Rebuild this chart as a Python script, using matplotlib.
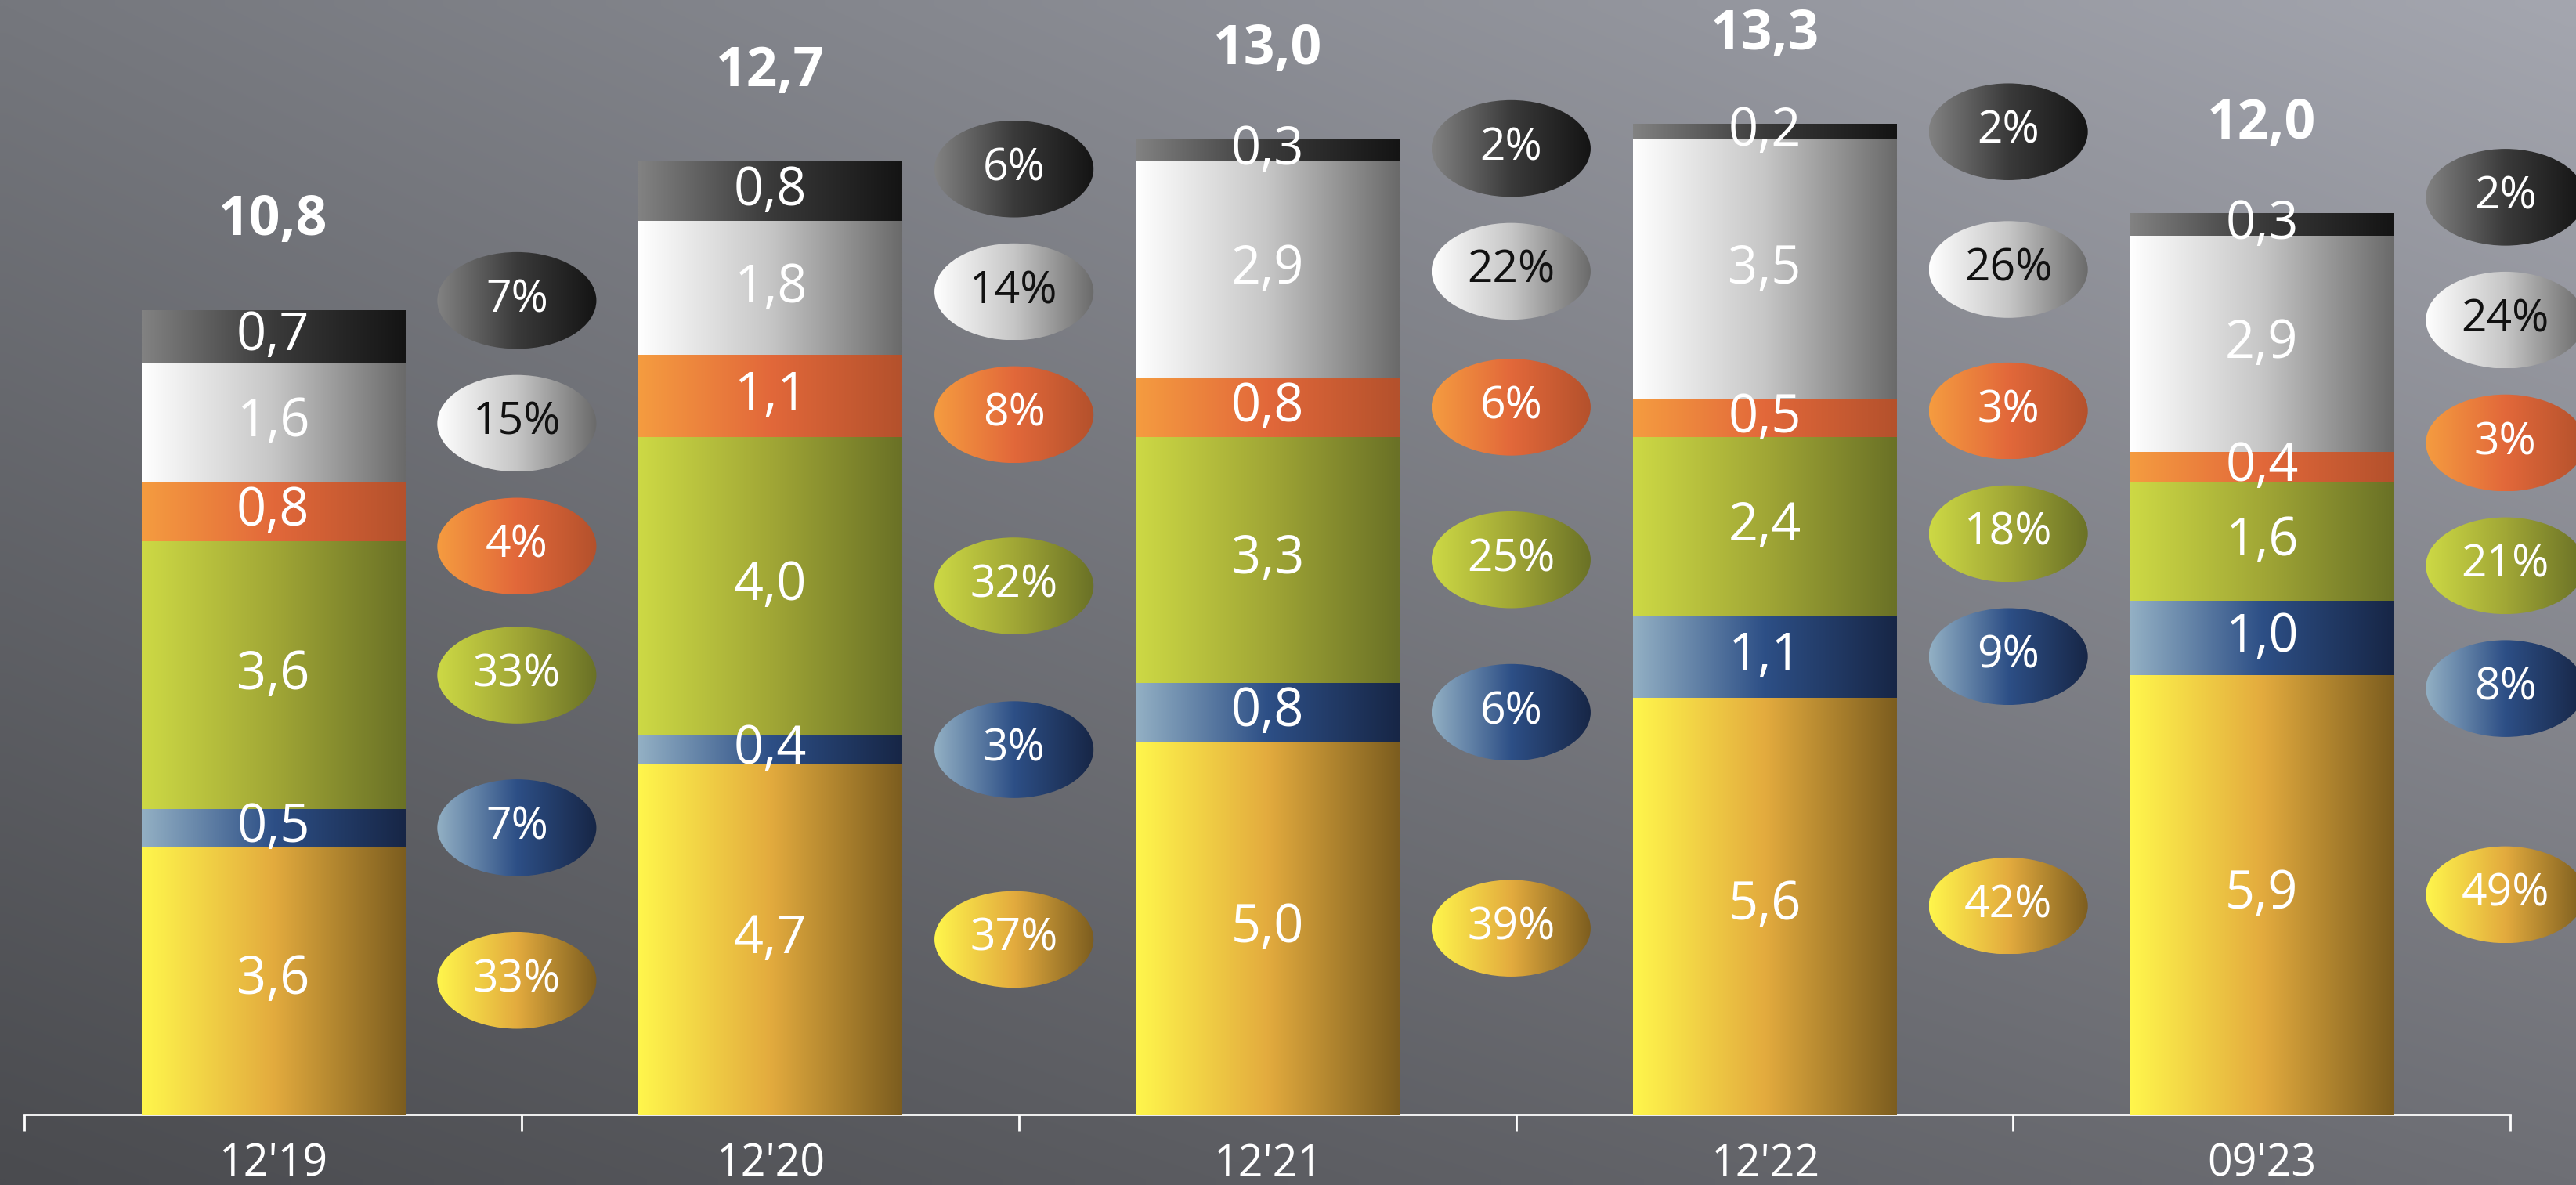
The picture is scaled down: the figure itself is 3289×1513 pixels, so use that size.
import numpy as np
import matplotlib
matplotlib.use("Agg")
import matplotlib.pyplot as plt
from matplotlib.colors import LinearSegmentedColormap
from matplotlib.patches import Ellipse

# data (bottom -> top of each bar)
periods = ["12'19", "12'20", "12'21", "12'22", "09'23"]
series = ["yellow", "blue", "green", "orange", "white", "black"]
yellow = [3.6, 4.7, 5.0, 5.6, 5.9]
blue = [0.5, 0.4, 0.8, 1.1, 1.0]
green = [3.6, 4.0, 3.3, 2.4, 1.6]
orange = [0.8, 1.1, 0.8, 0.5, 0.4]
white = [1.6, 1.8, 2.9, 3.5, 2.9]
black = [0.7, 0.8, 0.3, 0.2, 0.3]
totals = [10.8, 12.7, 13.0, 13.3, 12.0]
# shares in %, same order as series
pct_yellow = [33, 37, 39, 42, 49]
pct_blue = [7, 3, 6, 9, 8]
pct_green = [33, 32, 25, 18, 21]
pct_orange = [4, 8, 6, 3, 3]
pct_white = [15, 14, 22, 26, 24]
pct_black = [7, 6, 2, 2, 2]

values = [yellow, blue, green, orange, white, black]
shares = [pct_yellow, pct_blue, pct_green, pct_orange, pct_white, pct_black]

ramps = {
    "yellow": ["#fff64c", "#e3ab3e", "#7c5d1f"],
    "blue": ["#93b0c4", "#2d4f86", "#172646"],
    "green": ["#cdd945", "#a1a736", "#6a7126"],
    "orange": ["#f59c40", "#e2683a", "#b4512c"],
    "white": ["#ffffff", "#c6c6c6", "#6a6a6a"],
    "black": ["#828282", "#3a3a3a", "#141414"],
}
cmaps = {k: LinearSegmentedColormap.from_list(k, v) for k, v in ramps.items()}
grad = np.linspace(0, 1, 256).reshape(1, -1)

fig = plt.figure(figsize=(32.89, 15.13), dpi=100)

# background gradient
bg = fig.add_axes([0, 0, 1, 1])
bg.set_axis_off()
tl, tr = np.array([0x75, 0x77, 0x7d]), np.array([0xa4, 0xa6, 0xaf])
bl, br = np.array([0x4a, 0x4b, 0x4f]), np.array([0x6e, 0x6f, 0x75])
u = np.linspace(0, 1, 200)[None, :, None]
v = np.linspace(0, 1, 100)[:, None, None]
img = (1 - v) * ((1 - u) * tl + u * tr) + v * ((1 - u) * bl + u * br)
bg.imshow(img / 255.0, aspect="auto", extent=[0, 1, 0, 1], interpolation="bilinear")

ax = fig.add_axes([0, 0, 1, 1], zorder=2)
ax.patch.set_alpha(0)

bar_w = 0.53
ell_dx = 0.49
ell_w, ell_h = 0.32, 1.3
gap = 1.65

def spread(cs, d):
    cs = list(cs)
    for _ in range(300):
        for i in range(len(cs) - 1):
            diff = cs[i + 1] - cs[i]
            if diff < d:
                s = (d - diff) / 2
                cs[i] -= s
                cs[i + 1] += s
    return cs

for i, p in enumerate(periods):
    base = 0.0
    mids = []
    for s, vals in zip(series, values):
        h = vals[i]
        x0, x1 = i - bar_w / 2, i + bar_w / 2
        ax.imshow(grad, cmap=cmaps[s], aspect="auto", extent=[x0, x1, base, base + h],
                  interpolation="bilinear", zorder=3)
        mids.append(base + h / 2)
        ax.text(i, base + h / 2, f"{h:.1f}".replace(".", ","), ha="center", va="center",
                color="white", fontsize=48, family="Open Sans", zorder=5)
        base += h
    ax.text(i, base + 1.2, f"{totals[i]:.1f}".replace(".", ","), ha="center", va="center",
            color="white", fontsize=50, fontweight="bold", family="Open Sans", zorder=5)

    ys = spread(mids, gap)
    for s, sh, y in zip(series, shares, ys):
        cx = i + ell_dx
        e = Ellipse((cx, y), ell_w, ell_h, facecolor="none", edgecolor="none")
        ax.add_patch(e)
        im = ax.imshow(grad, cmap=cmaps[s], aspect="auto",
                       extent=[cx - ell_w / 2, cx + ell_w / 2, y - ell_h / 2, y + ell_h / 2],
                       interpolation="bilinear", zorder=4)
        im.set_clip_path(e)
        ax.text(cx, y, f"{sh[i]}%", ha="center", va="center", fontsize=41,
                color="#111111" if s == "white" else "white", family="Open Sans", zorder=5)

ax.set_xlim(-0.5496, 4.632)
ax.set_ylim(-0.949, 14.97)

for side in ["top", "right", "left"]:
    ax.spines[side].set_visible(False)
ax.spines["bottom"].set_position(("data", 0))
ax.spines["bottom"].set_bounds(-0.5, 4.5)
ax.spines["bottom"].set_color("white")
ax.spines["bottom"].set_linewidth(2)
ax.set_yticks([])
ax.set_xticks(range(len(periods)))
ax.set_xticklabels(periods, family="Open Sans", fontsize=40, color="white")
ax.set_xticks(np.arange(-0.5, 5, 1), minor=True)
ax.tick_params(axis="x", which="major", length=0, pad=26)
ax.tick_params(axis="x", which="minor", length=15, width=2, color="white", direction="out")

fig.savefig("out.png", dpi=100)
